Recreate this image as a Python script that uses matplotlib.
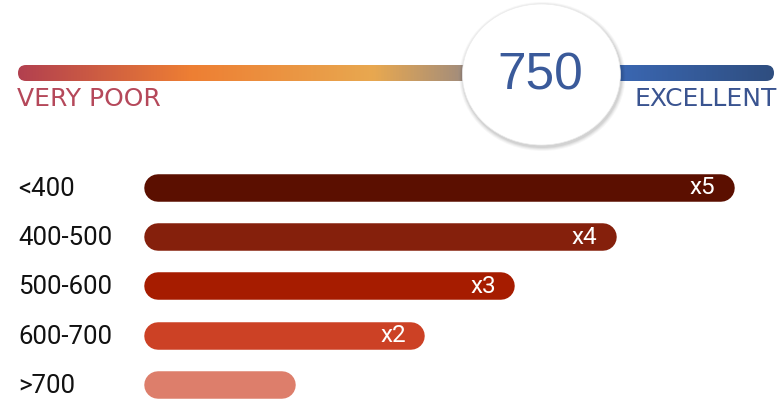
import numpy as np
import matplotlib
matplotlib.use("Agg")
import matplotlib.pyplot as plt
from matplotlib.patches import FancyBboxPatch, Ellipse
from matplotlib.colors import LinearSegmentedColormap

# ── data ────────────────────────────────────────────────────────────────────
score = 750
gauge_min, gauge_max = 300, 950
bands = ["<400", "400-500", "500-600", "600-700", ">700"]
rate = [100, 79, 61, 45, 22]            # relative rate, <400 = 100
mult = ["x5", "x4", "x3", "x2", ""]
colors = ["#5b0f00", "#85200c", "#a61c00", "#cc4125", "#dd7e6b"]

W, H = 784, 401
fig = plt.figure(figsize=(W / 100, H / 100), dpi=100)
fig.patch.set_facecolor("white")

# ── gauge (pixel space) ─────────────────────────────────────────────────────
bg = fig.add_axes([0, 0, 1, 1])
bg.set_xlim(0, W)
bg.set_ylim(H, 0)
bg.axis("off")

gx0, gx1, gy, gh = 18, 774, 65, 16
track = FancyBboxPatch((gx0, gy), gx1 - gx0, gh,
                       boxstyle=f"round,pad=0,rounding_size={gh / 2}",
                       facecolor="none", edgecolor="none")
bg.add_patch(track)
cmap = LinearSegmentedColormap.from_list("score", [
    (0.00, "#b2404f"),
    (0.23, "#ee7f33"),
    (0.47, "#e8a850"),
    (0.58, "#a88f78"),
    (0.62, "#7a7f98"),
    (0.79, "#3b68b4"),
    (1.00, "#2f4e80"),
])
grad = np.linspace(0, 1, 512).reshape(1, -1)
im = bg.imshow(grad, cmap=cmap, aspect="auto",
               extent=(gx0, gx1, gy + gh, gy), zorder=2)
im.set_clip_path(track)

bg.text(gx0 - 1, 99, "VERY POOR", fontsize=18, color="#b5485a",
        family="DejaVu Sans", ha="left", va="center")
bg.text(gx1 + 3, 99, "EXCELLENT", fontsize=18, color="#3a5490",
        family="DejaVu Sans", ha="right", va="center")

# score bubble
cx = gx0 + (score - gauge_min) / (gauge_max - gauge_min) * (gx1 - gx0)
cy = 74.5
for i, a in enumerate([0.03, 0.04, 0.05, 0.06]):
    grow = 8 - 2 * i
    bg.add_patch(Ellipse((cx + 1, cy + 2), 158 + grow, 141 + grow,
                         facecolor="#000000", alpha=a, edgecolor="none",
                         zorder=3))
bg.add_patch(Ellipse((cx, cy), 158, 141, facecolor="white",
                     edgecolor="#ececec", lw=0.5, zorder=4))
bg.text(cx - 1, cy + 1, str(score), fontsize=37, color="#3a5a9a",
        family="Liberation Sans", ha="center", va="center", zorder=5)

# ── bars ────────────────────────────────────────────────────────────────────
bar_left, bar_top = 158, 168
ax = fig.add_axes([bar_left / W, 0, (W - bar_left) / W, (H - bar_top) / H])
ax.set_xlim(0, 111.2)
ax.set_ylim(4.325, -0.406)
ax.axis("off")

for i, (v, c) in enumerate(zip(rate, colors)):
    ax.plot([0, v], [i, i], color=c, lw=19.8, solid_capstyle="round",
            clip_on=False)
    if mult[i]:
        ax.annotate(mult[i], xy=(v, i), xytext=(-4, 0),
                    textcoords="offset points", ha="right", va="center",
                    fontsize=17.5, color="white", family="Roboto")
    ax.text(-(bar_left - 18) / (W - bar_left), i + 0.02, bands[i],
            transform=ax.get_yaxis_transform(), fontsize=18.5,
            color="#111111", family="Roboto", ha="left", va="center",
            clip_on=False)

fig.savefig("out.png", dpi=100, facecolor="white")
